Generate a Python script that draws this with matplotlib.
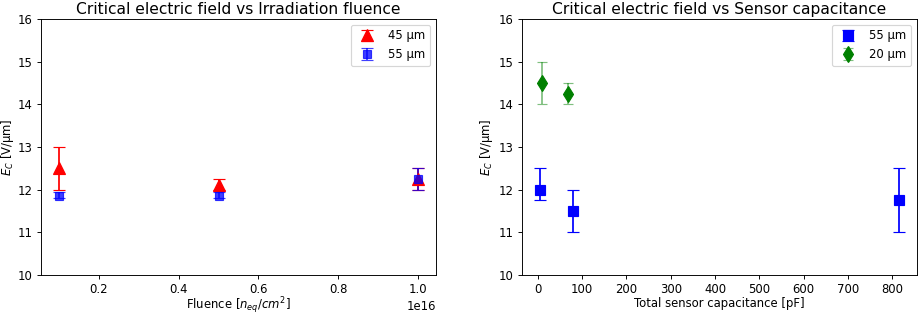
import matplotlib
matplotlib.use("Agg")
import matplotlib.pyplot as plt

# left panel: field vs fluence
fluence = [0.1e16, 0.5e16, 1.0e16]
ec_45 = [12.5, 12.1, 12.25]
ec_45_lo = [0.5, 0.1, 0.25]
ec_45_hi = [0.5, 0.15, 0.25]
ec_55 = [11.85, 11.85, 12.25]
ec_55_lo = [0.05, 0.05, 0.25]
ec_55_hi = [0.1, 0.1, 0.25]

# right panel: field vs capacitance
cap_55 = [5, 80, 815]
ec_c55 = [12.0, 11.5, 11.75]
ec_c55_lo = [0.25, 0.5, 0.75]
ec_c55_hi = [0.5, 0.5, 0.75]
cap_20 = [10, 68]
ec_c20 = [14.5, 14.25]
ec_c20_lo = [0.5, 0.25]
ec_c20_hi = [0.5, 0.25]

dpi = 84
fig = plt.figure(figsize=(920 / dpi, 316 / dpi), dpi=dpi)
ax1 = fig.add_axes([41 / 920, 1 - 275 / 316, 395 / 920, 256 / 316])
ax2 = fig.add_axes([522 / 920, 1 - 275 / 316, 395 / 920, 256 / 316])

ax1.errorbar(fluence, ec_45, yerr=[ec_45_lo, ec_45_hi], fmt="^", color="red",
             ms=11, capsize=5, label="45 µm")
ax1.errorbar(fluence, ec_55, yerr=[ec_55_lo, ec_55_hi], fmt="s", color="blue",
             ms=7, capsize=5, alpha=0.75, label="55 µm")
ax1.set_ylim(10, 16)
ax1.set_title("Critical electric field vs Irradiation fluence", fontsize=13.3, pad=4)
ax1.set_xlabel("Fluence [$n_{eq}/cm^2$]", labelpad=-1)
ax1.set_ylabel("$E_C$ [V/µm]", labelpad=2)
ax1.legend(loc="upper right")

ax2.errorbar(cap_55, ec_c55, yerr=[ec_c55_lo, ec_c55_hi], fmt="s", color="blue",
             ms=8, capsize=5, label="55 µm")
eb = ax2.errorbar(cap_20, ec_c20, yerr=[ec_c20_lo, ec_c20_hi], fmt="d", color="green",
                  ms=10, capsize=4, label="20 µm")
for art in eb[1] + eb[2]:
    art.set_alpha(0.5)
ax2.set_ylim(10, 16)
ax2.set_xticks(range(0, 900, 100))
ax2.set_title("Critical electric field vs Sensor capacitance", fontsize=13.3, pad=4)
ax2.set_xlabel("Total sensor capacitance [pF]", labelpad=1)
ax2.set_ylabel("$E_C$ [V/µm]", labelpad=3)
ax2.legend(loc="upper right")

fig.savefig("out.png", dpi=dpi)
